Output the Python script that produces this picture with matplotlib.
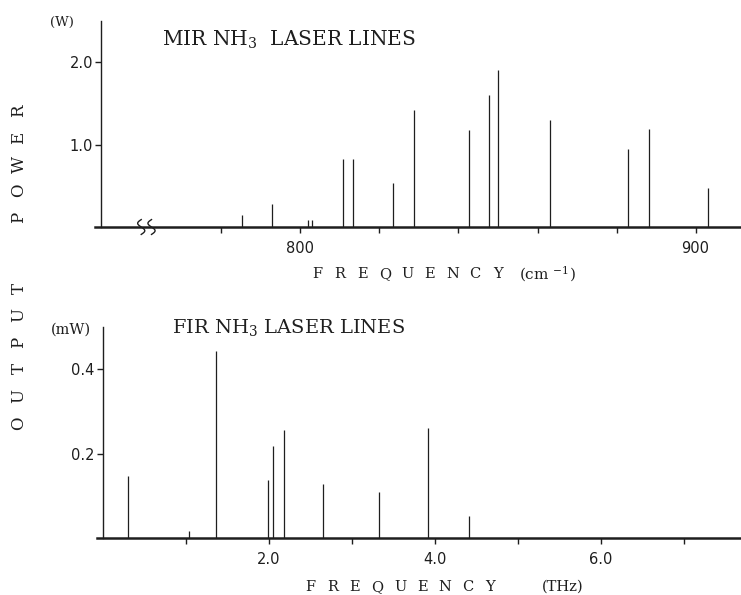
import numpy as np
import matplotlib
matplotlib.use("Agg")
import matplotlib.pyplot as plt

# MIR lines: frequency (cm^-1) and output power (W)
mir_freq = [785.1, 792.7, 802.0, 802.8, 810.8, 813.4, 823.5, 828.8,
            842.7, 847.7, 850.1, 863.2, 882.8, 888.3, 903.1]
mir_power = [0.14, 0.28, 0.09, 0.09, 0.83, 0.83, 0.53, 1.42,
             1.18, 1.60, 1.90, 1.30, 0.95, 1.19, 0.47]

# FIR lines: frequency (THz) and output power (mW)
fir_freq = [0.30, 1.04, 1.36, 1.99, 2.05, 2.18, 2.65, 3.33, 3.92, 4.41]
fir_power = [0.148, 0.017, 0.444, 0.138, 0.217, 0.256, 0.128, 0.108, 0.260, 0.053]

mir_ticks = [780, 800, 820, 840, 860, 880, 900]
mir_ticklabels = ["", "800", "", "", "", "", "900"]
fir_ticks = [1, 2, 3, 4, 5, 6, 7]
fir_ticklabels = ["", "2.0", "", "4.0", "", "6.0", ""]

W, H = 741, 595
INK = "#1e1e1e"
plt.rcParams["mathtext.fontset"] = "dejavuserif"


def fx(x):
    return x / W


def fy(y):
    return 1 - y / H


def spaced(fig, text, start, step, fixed, vertical=False, **kw):
    # typewriter style letter spacing, one letter at a time
    for i, ch in enumerate(text):
        if ch == " ":
            continue
        if vertical:
            fig.text(fx(fixed), fy(start - i * step), ch, rotation=90,
                     ha="center", va="center", **kw)
        else:
            fig.text(fx(start + i * step), fy(fixed), ch,
                     ha="center", va="center", **kw)


fig = plt.figure(figsize=(W / 100, H / 100), dpi=100)

ax1 = fig.add_axes([95 / W, 1 - 227 / H, 646 / W, 206 / H])
ax2 = fig.add_axes([97 / W, 1 - 538 / H, 644 / W, 211 / H])

for ax in (ax1, ax2):
    for s in ("top", "right"):
        ax.spines[s].set_visible(False)
    ax.spines["bottom"].set_linewidth(1.8)
    ax.spines["left"].set_linewidth(1.0)
    ax.spines["bottom"].set_color(INK)
    ax.spines["left"].set_color(INK)
    ax.tick_params(direction="out", length=4, width=1.0, color=INK,
                   labelsize=10.5, labelcolor=INK)
    ax.tick_params(axis="x", pad=6)
    ax.tick_params(axis="y", pad=2)

# top panel
ax1.set_xlim(748.0, 911.5)
ax1.set_ylim(0, 2.5)
ax1.spines["left"].set_position(("data", 749.6))
ax1.vlines(mir_freq, 0, mir_power, color=INK, lw=0.9)
ax1.set_xticks(mir_ticks)
ax1.set_xticklabels(mir_ticklabels)
ax1.set_yticks([1.0, 2.0])
ax1.set_yticklabels(["1.0", "2.0"])

# axis break symbol
brk = 761
yy = np.linspace(-0.09, 0.09, 40)
for off in (-1.3, 1.3):
    ax1.plot(brk + off - 0.9 * np.sin(np.pi * yy / 0.09), yy,
             color=INK, lw=1.0, clip_on=False)

# bottom panel
ax2.set_xlim(-0.072, 7.69)
ax2.set_ylim(0, 0.5)
ax2.spines["left"].set_position(("data", 0))
ax2.vlines(fir_freq, 0, fir_power, color=INK, lw=0.9)
ax2.set_xticks(fir_ticks)
ax2.set_xticklabels(fir_ticklabels)
ax2.set_yticks([0.2, 0.4])
ax2.set_yticklabels(["0.2", "0.4"])

# titles and units
fig.text(fx(162), fy(46), "MIR NH$_3$  LASER LINES", fontsize=14.5,
         family="DejaVu Serif", color=INK, va="baseline", ha="left")
fig.text(fx(172), fy(333), "FIR NH$_3$ LASER LINES", fontsize=14,
         family="DejaVu Serif", color=INK, va="baseline", ha="left")
fig.text(fx(62), fy(22), "(W)", fontsize=9.5, family="DejaVu Serif",
         color=INK, ha="center", va="center")
fig.text(fx(71), fy(330), "(mW)", fontsize=10.5, family="DejaVu Serif",
         color=INK, ha="center", va="center")

# axis labels
lab = dict(fontsize=10.5, family="DejaVu Serif", color=INK)
spaced(fig, "FREQUENCY", 317, 22.6, 274, **lab)
fig.text(fx(519), fy(274), r"(cm $^{-1}$)", ha="left", va="center",
         fontsize=11, family="DejaVu Serif", color=INK)
spaced(fig, "FREQUENCY", 310, 22.5, 587, **lab)
fig.text(fx(542), fy(587), "(THz)", ha="left", va="center", **lab)

ylab = dict(fontsize=12, family="DejaVu Serif", color=INK)
spaced(fig, "OUTPUT", 423, 27, 19, vertical=True, **ylab)
spaced(fig, "POWER", 217, 26.5, 19, vertical=True, **ylab)

fig.savefig("out.png", dpi=100)
